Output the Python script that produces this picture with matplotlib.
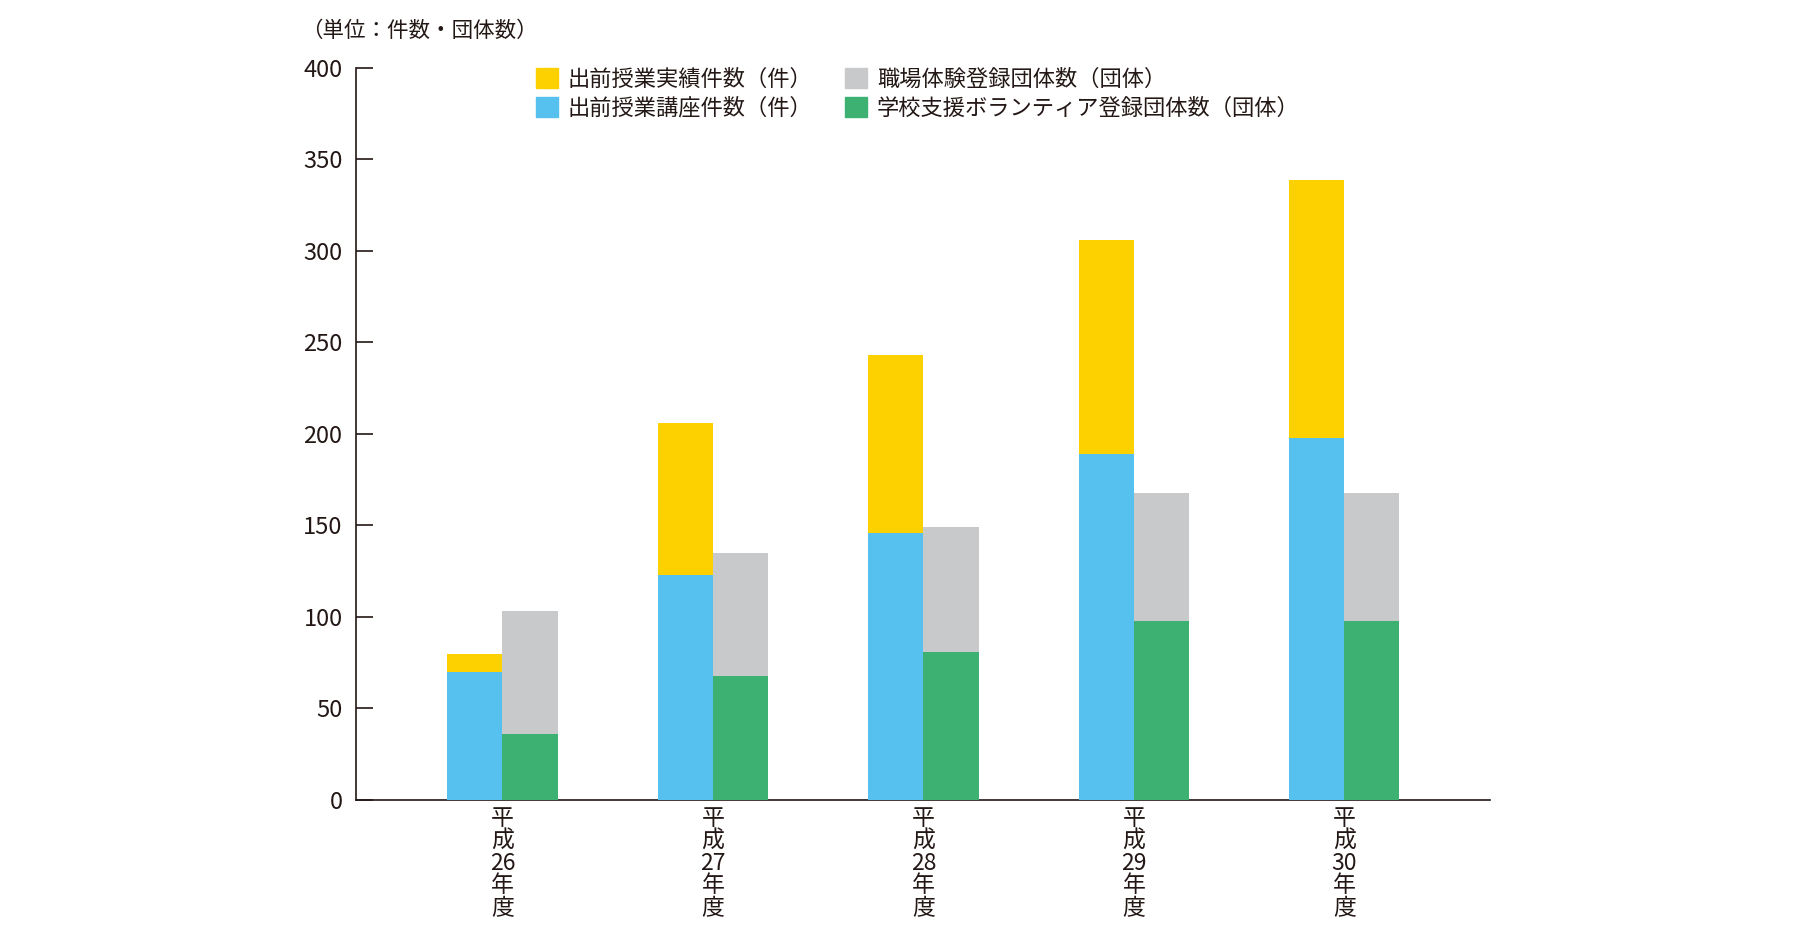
import matplotlib
matplotlib.use("Agg")
import matplotlib.pyplot as plt
from matplotlib.patches import Patch
import numpy as np

plt.rcParams['font.family'] = ['Liberation Sans Narrow', 'Noto Sans CJK JP', 'DejaVu Sans']

# data
years = ["平\n成\n26\n年\n度", "平\n成\n27\n年\n度", "平\n成\n28\n年\n度",
         "平\n成\n29\n年\n度", "平\n成\n30\n年\n度"]
jisseki = [80, 206, 243, 306, 339]      # 出前授業実績件数（件）
kouza = [70, 123, 146, 189, 198]        # 出前授業講座件数（件）
shokuba = [103, 135, 149, 168, 168]     # 職場体験登録団体数（団体）
shien = [36, 68, 81, 98, 98]            # 学校支援ボランティア登録団体数（団体）

c_yellow = "#FDD000"
c_blue = "#56C1EF"
c_gray = "#C8C9CA"
c_green = "#3CB171"
c_text = "#231815"

fig = plt.figure(figsize=(18, 9.36), dpi=100)
ax = fig.add_axes([0.198, 0.1453, 0.63, 0.7821])

x = np.arange(len(years))
w = 0.262
ax.bar(x - w / 2, jisseki, w, color=c_yellow, zorder=2)
ax.bar(x - w / 2, kouza, w, color=c_blue, zorder=3)
ax.bar(x + w / 2, shokuba, w, color=c_gray, zorder=2)
ax.bar(x + w / 2, shien, w, color=c_green, zorder=3)

ax.set_xlim(-0.694, 4.694)
ax.set_ylim(0, 400)
ax.set_yticks(range(0, 401, 50))
ax.tick_params(axis='y', direction='in', length=12, width=1.2, colors=c_text,
               labelsize=17, pad=10)
ax.set_xticks(x)
ax.set_xticklabels(years, fontsize=16.5, color=c_text, linespacing=0.97,
                   family=['Noto Sans CJK JP', 'DejaVu Sans'])
ax.tick_params(axis='x', length=0, pad=5)
for s in ['top', 'right']:
    ax.spines[s].set_visible(False)
for s in ['left', 'bottom']:
    ax.spines[s].set_color(c_text)
    ax.spines[s].set_linewidth(1.2)

fig.text(0.167, 0.967, "（単位：件数・団体数）", fontsize=15.5, color=c_text,
         va='center', ha='left', family=['Noto Sans CJK JP', 'DejaVu Sans'])

handles = [Patch(color=c_yellow), Patch(color=c_blue),
           Patch(color=c_gray), Patch(color=c_green)]
labels = ["出前授業実績件数（件）", "出前授業講座件数（件）",
          "職場体験登録団体数（団体）", "学校支援ボランティア登録団体数（団体）"]
fig.legend(handles, labels, ncol=2, loc='upper left',
           bbox_to_anchor=(0.2865, 0.949), frameon=False,
           prop={'family': ['Noto Sans CJK JP', 'DejaVu Sans'], 'size': 16},
           handlelength=1.0, handleheight=1.0, handletextpad=0.45,
           columnspacing=1.45, labelspacing=0.28, labelcolor=c_text)

fig.savefig("out.png", dpi=100)
